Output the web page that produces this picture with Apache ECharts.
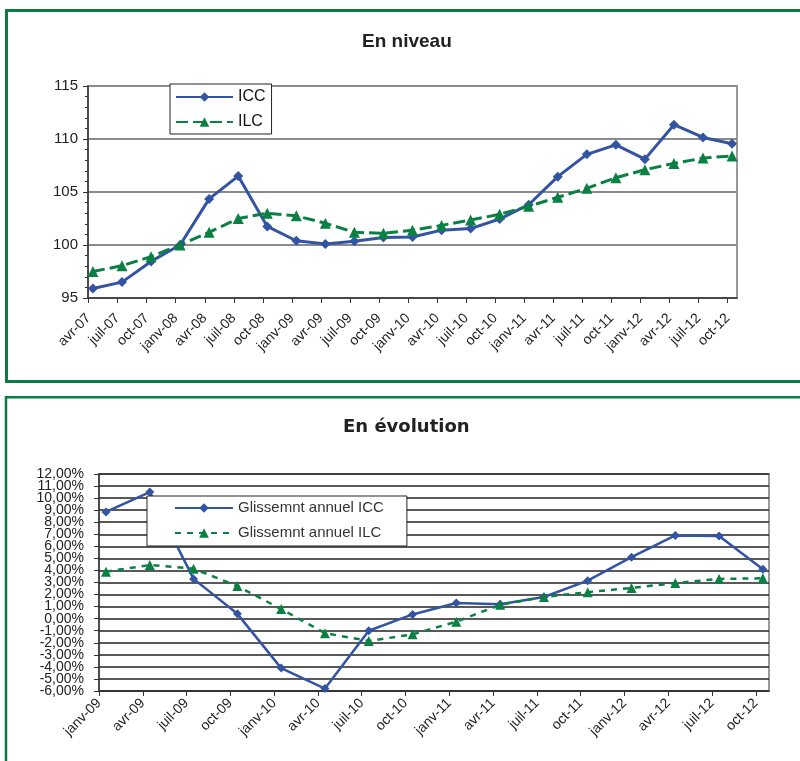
<!DOCTYPE html>
<html>
<head>
<meta charset="utf-8">
<script src="https://cdn.jsdelivr.net/npm/echarts@6/dist/echarts.min.js"></script>
<style>
  html, body { margin: 0; padding: 0; background: #fff; }
  #main { width: 800px; height: 761px; }
</style>
</head>
<body>
<div id="main"></div>
<script type="text/javascript">
// --- En niveau (trimestriel)
var datesNiveau = ['avr-07','juil-07','oct-07','janv-08','avr-08','juil-08','oct-08','janv-09','avr-09','juil-09','oct-09','janv-10','avr-10','juil-10','oct-10','janv-11','avr-11','juil-11','oct-11','janv-12','avr-12','juil-12','oct-12'];
var icc = [95.9, 96.5, 98.45, 100.0, 104.35, 106.5, 101.75, 100.4, 100.1, 100.35, 100.7, 100.75, 101.4, 101.55, 102.45, 103.8, 106.45, 108.55, 109.45, 108.1, 111.35, 110.15, 109.55];
var ilc = [97.5, 98.05, 98.9, 100.0, 101.2, 102.5, 103.0, 102.75, 102.05, 101.2, 101.1, 101.4, 101.85, 102.35, 102.9, 103.65, 104.5, 105.35, 106.35, 107.1, 107.7, 108.2, 108.4];

// --- En evolution (glissement annuel, en %)
var datesEvol = ['janv-09','avr-09','juil-09','oct-09','janv-10','avr-10','juil-10','oct-10','janv-11','avr-11','juil-11','oct-11','janv-12','avr-12','juil-12','oct-12'];
var glisIcc = [8.85, 10.5, 3.3, 0.4, -4.1, -5.8, -1.0, 0.35, 1.3, 1.2, 1.8, 3.15, 5.1, 6.9, 6.85, 4.1];
var glisIlc = [3.9, 4.45, 4.15, 2.7, 0.8, -1.2, -1.85, -1.3, -0.25, 1.15, 1.8, 2.2, 2.55, 2.95, 3.3, 3.35];
// y tick labels of the lower chart, -6 % .. 12 %
var pctTicks = [-6, -5, -4, -3, -2, -1, 0, 1, 2, 3, 4, 5, 6, 7, 8, 9, 10, 11, 12];

var BLUE = '#3353a3';
var GREEN = '#0a8043';
var FRAME = '#0b7c3f';

function pairs(arr) {
    return arr.map(function (v, i) { return [i, v]; });
}
// Excel date axis: tick slightly left of each point
function tickPos(arr, off) {
    return arr.map(function (d, i) { return i - off; });
}
function pct(v) {
    return v.toFixed(2).replace('.', ',') + '%';
}

var myChart = echarts.init(document.getElementById('main'));
var option = {
    animation: false,
    backgroundColor: '#fff',
    title: [
        {
            text: 'En niveau', left: 362, top: 32, padding: 0,
            textStyle: { fontFamily: 'Liberation Sans', fontSize: 19, fontWeight: 'bold', color: '#222' }
        },
        {
            text: 'En évolution', left: 343, top: 418, padding: 0,
            textStyle: { fontFamily: 'DejaVu Sans', fontSize: 18, fontWeight: 'bold', color: '#222' }
        }
    ],
    graphic: [
        { type: 'rect', silent: true, shape: { x: 6.5, y: 10.5, width: 820, height: 371 },
          style: { fill: null, stroke: FRAME, lineWidth: 3 } },
        { type: 'rect', silent: true, shape: { x: 6, y: 397.3, width: 820, height: 420 },
          style: { fill: null, stroke: FRAME, lineWidth: 2.5 } }
    ],
    legend: [
        {
            data: ['ICC', 'ILC'],
            orient: 'vertical', left: 170, top: 84,
            padding: [4, 6, 3, 5], itemWidth: 57, itemHeight: 12, itemGap: 7,
            borderColor: '#222', borderWidth: 1, backgroundColor: '#fff',
            selectedMode: false,
            textStyle: { fontFamily: 'Liberation Sans', fontSize: 16, lineHeight: 18, color: '#111' }
        },
        {
            data: ['Glissemnt annuel ICC', 'Glissemnt annuel ILC'],
            orient: 'vertical', left: 147, top: 496,
            padding: [4, 23, 5, 27], itemWidth: 58, itemHeight: 12, itemGap: 9,
            borderColor: '#222', borderWidth: 1, backgroundColor: '#fff',
            selectedMode: false,
            textStyle: { fontFamily: 'Liberation Sans', fontSize: 15, lineHeight: 16, color: '#333' }
        }
    ],
    grid: [
        { left: 88, top: 86, width: 649, height: 212, show: true, borderColor: '#999', borderWidth: 2 },
        { left: 99, top: 474, width: 670, height: 217, show: true, borderColor: '#999', borderWidth: 2 }
    ],
    xAxis: [
        {
            type: 'value', gridIndex: 0, min: -0.17, max: 22.17,
            axisLine: { onZero: false, lineStyle: { color: '#333', width: 1.5 } },
            splitLine: { show: false },
            axisTick: { customValues: tickPos(datesNiveau, 0.15), length: 5, lineStyle: { color: '#333' } },
            axisLabel: {
                customValues: tickPos(datesNiveau, 0.15), rotate: 45, margin: 18,
                fontFamily: 'Liberation Sans', fontSize: 14, color: '#222',
                formatter: function (v) { return datesNiveau[Math.round(v + 0.15)]; }
            }
        },
        {
            type: 'value', gridIndex: 1, min: -0.16, max: 15.14,
            axisLine: { onZero: false, lineStyle: { color: '#333', width: 1.5 } },
            splitLine: { show: false },
            axisTick: { customValues: tickPos(datesEvol, 0.16), length: 5, lineStyle: { color: '#333' } },
            axisLabel: {
                customValues: tickPos(datesEvol, 0.16), rotate: 45, margin: 10,
                fontFamily: 'Liberation Sans', fontSize: 14, color: '#222',
                formatter: function (v) { return datesEvol[Math.round(v + 0.16)]; }
            }
        }
    ],
    yAxis: [
        {
            type: 'value', gridIndex: 0, min: 95, max: 115, interval: 5,
            axisLine: { show: true, onZero: false, lineStyle: { color: '#333', width: 1.5 } },
            axisTick: { show: true, length: 5, lineStyle: { color: '#333' } },
            minorTick: { show: true, splitNumber: 5, length: 3, lineStyle: { color: '#333' } },
            splitLine: { lineStyle: { color: '#8a8a8a', width: 2 } },
            axisLabel: { fontFamily: 'Liberation Sans', fontSize: 15, color: '#222', margin: 10 }
        },
        {
            type: 'value', gridIndex: 1, min: -6, max: 12, interval: 1,
            axisLine: { show: true, onZero: false, lineStyle: { color: '#333', width: 1.5 } },
            axisTick: { show: true, length: 5, lineStyle: { color: '#333' } },
            splitLine: { lineStyle: { color: '#222', width: 1.5 } },
            axisLabel: { show: false }
        },
        {
            // label-only axis so that every percentage label is shown
            type: 'category', gridIndex: 1, position: 'left',
            data: pctTicks.map(pct), boundaryGap: false,
            axisLine: { show: false }, axisTick: { show: false }, splitLine: { show: false },
            axisLabel: { interval: 0, fontFamily: 'Liberation Sans', fontSize: 14, color: '#222', margin: 15 }
        }
    ],
    series: [
        {
            name: 'ICC', type: 'line', xAxisIndex: 0, yAxisIndex: 0,
            data: pairs(icc),
            symbol: 'diamond', symbolSize: 10,
            itemStyle: { color: BLUE },
            lineStyle: { color: BLUE, width: 3 }
        },
        {
            name: 'ILC', type: 'line', xAxisIndex: 0, yAxisIndex: 0,
            data: pairs(ilc),
            symbol: 'triangle', symbolSize: 11,
            itemStyle: { color: GREEN },
            lineStyle: { color: GREEN, width: 3, type: [12, 5] }
        },
        {
            name: 'Glissemnt annuel ICC', type: 'line', xAxisIndex: 1, yAxisIndex: 1,
            data: pairs(glisIcc),
            symbol: 'diamond', symbolSize: 9,
            itemStyle: { color: BLUE },
            lineStyle: { color: BLUE, width: 2.5 }
        },
        {
            name: 'Glissemnt annuel ILC', type: 'line', xAxisIndex: 1, yAxisIndex: 1,
            data: pairs(glisIlc),
            symbol: 'triangle', symbolSize: 10,
            itemStyle: { color: GREEN },
            lineStyle: { color: GREEN, width: 2.5, type: [6, 6] }
        }
    ]
};
myChart.setOption(option);
</script>
</body>
</html>
